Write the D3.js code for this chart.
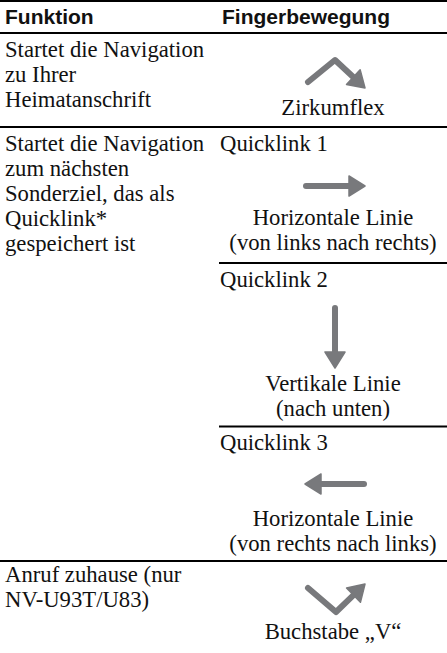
<!DOCTYPE html>
<html><head><meta charset="utf-8">
<script src="https://cdn.jsdelivr.net/npm/d3@7"></script>
<style>html,body{margin:0;padding:0;background:#fff;}svg{display:block;}</style>
</head><body>
<svg id="c" width="447" height="653"></svg>
<script>
// ---- data ----
const headers = ["Funktion", "Fingerbewegung"];
const functions = [
  ["Startet die Navigation", "zu Ihrer", "Heimatanschrift"],
  ["Startet die Navigation", "zum nächsten", "Sonderziel, das als", "Quicklink*", "gespeichert ist"],
  ["Anruf zuhause (nur", "NV-U93T/U83)"]
];
const quicklinks = ["", "Quicklink 1", "Quicklink 2", "Quicklink 3", ""];
const gestureLabels = [
  ["Zirkumflex"],
  ["Horizontale Linie", "(von links nach rechts)"],
  ["Vertikale Linie", "(nach unten)"],
  ["Horizontale Linie", "(von rechts nach links)"],
  ["Buchstabe „V“"]
];
// gesture shapes (relative points, last point = arrow tip)
const gestureShapes = [
  [[-27, 10], [0, -12], [30, 16]],
  [[-29, 0], [30, 0]],
  [[0, -29], [0, 31]],
  [[29, 0], [-30, 0]],
  [[-27, -10], [1, 14], [30, -14]]
];

// ---- layout ----
const W = 447, colX = 219, lh = 25, lhLabel = 25;
const serif = "'Liberation Serif','Times New Roman',serif";
const sans = "'Liberation Sans',Arial,sans-serif";
const grey = "#78797c";
const fs = 22.7;
// gesture cells: quicklink baseline, arrow centre y, label baseline
const cells = [
  {ql: null, ay: 72,  lb: 115},
  {ql: 151, ay: 186, lb: 224.5},
  {ql: 287, ay: 337, lb: 391},
  {ql: 450, ay: 484, lb: 526},
  {ql: null, ay: 598, lb: 638.5}
];
const funcBase = [57, 151, 582];
const cx = d3.scaleLinear().domain([0, 1]).range([colX, W]);
const midX = cx(0.5);

const svg = d3.select("#c");
// rules
const rules = [
  {x1: 0, x2: W, y: 1},
  {x1: 0, x2: W, y: 33},
  {x1: 0, x2: W, y: 127},
  {x1: colX, x2: W, y: 263},
  {x1: colX, x2: W, y: 426.5},
  {x1: 0, x2: W, y: 561}
];
svg.selectAll("line.rule").data(rules).join("line")
  .attr("class", "rule")
  .attr("x1", d => d.x1).attr("x2", d => d.x2)
  .attr("y1", d => d.y).attr("y2", d => d.y)
  .attr("stroke", "#000").attr("stroke-width", 2.2);

// headers
svg.selectAll("text.hd").data(headers).join("text")
  .attr("class", "hd")
  .attr("x", (d, i) => i === 0 ? 5 : 222)
  .attr("y", 24)
  .attr("font-family", sans).attr("font-weight", "bold").attr("font-size", 21)
  .attr("fill", "#111")
  .text(d => d);

// function texts
functions.forEach((lines, r) => {
  svg.append("g").selectAll("text").data(lines).join("text")
    .attr("x", 5).attr("y", (d, i) => funcBase[r] + i * lh)
    .attr("font-family", serif).attr("font-size", fs).attr("fill", "#111")
    .text(d => d);
});

// gesture cells
const line = d3.line();
cells.forEach((c, i) => {
  const g = svg.append("g");
  if (quicklinks[i]) {
    g.append("text").attr("x", 220).attr("y", c.ql)
      .attr("font-family", serif).attr("font-size", fs).attr("fill", "#111")
      .text(quicklinks[i]);
  }
  // arrow
  const pts = gestureShapes[i].map(p => [midX + 2 + p[0], c.ay + p[1]]);
  const n = pts.length;
  const tip = pts[n - 1], prev = pts[n - 2];
  const dx = tip[0] - prev[0], dy = tip[1] - prev[1];
  const len = Math.hypot(dx, dy), ux = dx / len, uy = dy / len;
  const L = 16, HW = 10;
  const shaft = pts.slice(0, n - 1).concat([[tip[0] - ux * L * 0.8, tip[1] - uy * L * 0.8]]);
  g.append("path").attr("d", line(shaft))
    .attr("fill", "none").attr("stroke", grey).attr("stroke-width", 6)
    .attr("stroke-linecap", "round").attr("stroke-linejoin", "round");
  const bx = tip[0] - ux * L, by = tip[1] - uy * L;
  const head = [[tip[0], tip[1]], [bx - uy * HW, by + ux * HW], [bx + uy * HW, by - ux * HW]];
  g.append("path").attr("d", line(head) + "Z")
    .attr("fill", grey).attr("stroke", grey).attr("stroke-width", 1.5).attr("stroke-linejoin", "round");
  // label lines
  g.selectAll("text.lb").data(gestureLabels[i]).join("text")
    .attr("class", "lb")
    .attr("x", midX).attr("y", (d, k) => c.lb + k * lhLabel)
    .attr("text-anchor", "middle")
    .attr("font-family", serif).attr("font-size", fs).attr("fill", "#111")
    .text(d => d);
});
</script>
</body></html>
